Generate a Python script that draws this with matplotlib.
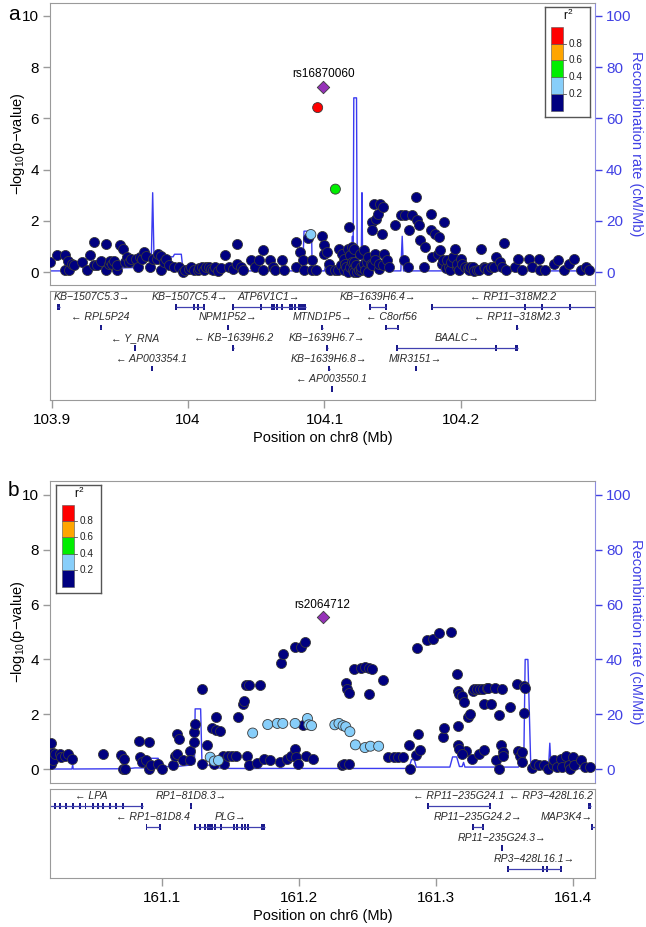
import matplotlib
matplotlib.use('Agg')
import matplotlib.pyplot as plt
import matplotlib.patches as mpatches
import numpy as np

plt.rcParams['font.family'] = ['Liberation Sans', 'DejaVu Sans']
plt.rcParams['mathtext.fontset'] = 'custom'
plt.rcParams['mathtext.rm'] = 'Liberation Sans'

# ---------------- panel a : chr8 ----------------
a_pos = [103.899, 103.904, 103.910, 103.910, 103.913, 103.912, 103.915, 103.916,
         103.922, 103.926, 103.928, 103.931, 103.931, 103.933, 103.936, 103.940,
         103.940, 103.942, 103.943, 103.944, 103.946, 103.948, 103.948, 103.950,
         103.952, 103.954, 103.955, 103.957, 103.958, 103.962, 103.963, 103.965,
         103.966, 103.968, 103.969, 103.972, 103.974, 103.977, 103.978, 103.980,
         103.980, 103.982, 103.984, 103.986, 103.990, 103.993, 103.996, 103.998,
         104.001, 104.002, 104.004, 104.007, 104.008, 104.010, 104.012, 104.013,
         104.015, 104.017, 104.018, 104.020, 104.022, 104.024, 104.027, 104.030,
         104.033, 104.036, 104.036, 104.039, 104.040, 104.046, 104.049, 104.052,
         104.055, 104.055, 104.060, 104.062, 104.064, 104.069, 104.070, 104.079,
         104.079, 104.082, 104.084, 104.085, 104.088, 104.091, 104.091, 104.094,
         104.098, 104.100, 104.100, 104.102, 104.103, 104.104, 104.108, 104.110,
         104.111, 104.112, 104.113, 104.114, 104.114, 104.115, 104.116, 104.117,
         104.117, 104.118, 104.119, 104.119, 104.120, 104.120, 104.121, 104.122,
         104.122, 104.122, 104.123, 104.124, 104.125, 104.126, 104.127, 104.127,
         104.129, 104.129, 104.130, 104.131, 104.132, 104.132, 104.134, 104.135,
         104.135, 104.135, 104.136, 104.137, 104.137, 104.138, 104.139, 104.140,
         104.140, 104.141, 104.142, 104.143, 104.143, 104.144, 104.146, 104.147,
         104.152, 104.156, 104.158, 104.159, 104.161, 104.162, 104.164, 104.167,
         104.168, 104.169, 104.170, 104.173, 104.174, 104.178, 104.178, 104.179,
         104.181, 104.183, 104.184, 104.185, 104.186, 104.187, 104.188, 104.189,
         104.190, 104.191, 104.192, 104.193, 104.194, 104.196, 104.197, 104.197,
         104.199, 104.200, 104.201, 104.203, 104.205, 104.206, 104.207, 104.209,
         104.210, 104.212, 104.213, 104.215, 104.217, 104.218, 104.220, 104.222,
         104.224, 104.226, 104.229, 104.230, 104.232, 104.233, 104.240, 104.242,
         104.245, 104.250, 104.252, 104.257, 104.258, 104.262, 104.268, 104.271,
         104.276, 104.279, 104.283, 104.288, 104.292, 104.294]
a_logp = [0.40, 0.66, 0.66, 0.10, 0.10, 0.45, 0.33, 0.27,
          0.40, 0.10, 0.66, 1.18, 0.27, 0.27, 0.43, 1.10,
          0.10, 0.33, 0.43, 0.30, 0.43, 0.10, 0.27, 1.05,
          0.92, 0.40, 0.60, 0.40, 0.52, 0.53, 0.20, 0.60,
          0.50, 0.79, 0.62, 0.20, 0.53, 0.53, 0.72, 0.10,
          0.62, 0.40, 0.53, 0.27, 0.20, 0.20, 0.00, 0.10,
          0.12, 0.20, 0.10, 0.08, 0.15, 0.20, 0.10, 0.20,
          0.20, 0.14, 0.10, 0.20, 0.05, 0.15, 0.66, 0.20,
          0.14, 1.09, 0.33, 0.20, 0.10, 0.47, 0.20, 0.47,
          0.86, 0.10, 0.47, 0.20, 0.10, 0.47, 0.10, 1.18,
          0.20, 0.79, 0.47, 0.10, 1.35, 0.10, 0.47, 0.10,
          1.40, 0.72, 1.05, 0.79, 0.33, 0.10, 0.10, 0.10,
          0.92, 0.27, 0.72, 0.53, 0.10, 0.33, 0.20, 0.92,
          0.00, 1.76, 0.66, 0.20, 0.99, 0.40, 0.10, 0.40,
          0.92, 0.00, 0.27, 0.00, 0.10, 0.72, 0.10, 0.20,
          0.86, 0.33, 0.10, 0.40, 0.60, 0.00, 0.33, 1.96,
          1.63, 0.27, 2.67, 0.72, 0.47, 2.09, 2.28, 0.14,
          0.33, 2.67, 1.50, 2.54, 0.27, 0.72, 0.47, 0.20,
          1.83, 2.22, 0.47, 2.22, 0.20, 1.63, 2.22, 2.93,
          2.02, 1.83, 1.25, 0.20, 0.99, 1.63, 2.28, 0.60,
          1.50, 0.72, 1.37, 0.86, 0.30, 0.47, 1.96, 0.15,
          0.47, 0.20, 0.10, 0.40, 0.60, 0.92, 0.20, 0.33,
          0.10, 0.53, 0.30, 0.20, 0.15, 0.10, 0.20, 0.20,
          0.05, 0.10, 0.10, 0.92, 0.20, 0.15, 0.10, 0.20,
          0.20, 0.60, 0.40, 0.20, 1.12, 0.10, 0.20, 0.53,
          0.10, 0.53, 0.20, 0.53, 0.10, 0.10, 0.33, 0.47,
          0.10, 0.33, 0.53, 0.10, 0.20, 0.10]
a_ld_pos = [104.090, 104.108, 104.095]
a_ld_logp = [1.47, 3.24, 6.42]
a_ld_r2 = [0.3, 0.5, 0.9]
a_top_pos = 104.099
a_top_logp = 7.23
a_top_name = 'rs16870060'

a_rec_pos = [103.8987, 103.915, 103.921, 103.922, 103.923, 103.930, 103.933, 103.940,
             103.960, 103.968, 103.973, 103.974, 103.975, 103.980, 103.983, 103.989,
             103.990, 103.995, 103.996, 103.999, 104.002, 104.084, 104.085, 104.0905,
             104.091, 104.093, 104.100, 104.101, 104.102, 104.119, 104.120, 104.1205,
             104.121, 104.1215, 104.1235, 104.124, 104.127, 104.1275, 104.128, 104.131,
             104.143, 104.144, 104.146, 104.156, 104.157, 104.158, 104.2984]
a_rec_rate = [0.5, 0.5, 3, 5, 1, 1.5, 1, 1.5,
              1.8, 4.5, 5, 31, 5, 5.5, 6, 6,
              7, 7, 2, 1, 0.5, 0.5, 16, 16,
              1, 0.5, 0.5, 3, 0.5, 0.5, 5, 14,
              3, 68, 68, 5, 5, 31, 3, 1,
              1, 3, 0.5, 0.5, 14, 0.5, 0.5]

a_gene_names = ['KB-1507C5.3', 'KB-1507C5.4', 'ATP6V1C1', 'KB-1639H6.4', 'RP11-318M2.2',
                'RPL5P24', 'NPM1P52', 'MTND1P5', 'C8orf56', 'RP11-318M2.3',
                'Y_RNA', 'KB-1639H6.2', 'KB-1639H6.7', 'BAALC',
                'AP003354.1', 'KB-1639H6.8', 'MIR3151', 'AP003550.1']
a_gene_strand = ['+', '+', '+', '+', '-', '-', '+', '+', '-', '-',
                 '-', '-', '+', '+', '-', '+', '+', '-']
a_gene_row = [0, 0, 0, 0, 0, 1, 1, 1, 1, 1, 2, 2, 2, 2, 3, 3, 3, 4]
a_gene_start = [103.9039, 103.9912, 104.0327, 104.1333, 104.1787, 103.9355, 104.0290, 104.0982,
                104.1451, 104.2411, 103.9608, 104.0328, 104.1015, 104.1530, 103.9732, 104.1033,
                104.1668, 104.1052]
a_gene_end = [103.9060, 104.0120, 104.0862, 104.1451, 104.3100, 103.9362, 104.0296, 104.0988,
              104.1538, 104.2417, 103.9614, 104.0336, 104.1023, 104.2422, 103.9736, 104.1037,
              104.1670, 104.1054]
a_gene_exons = [[(103.9039, 103.9060)],
                [(103.9910, 103.9914), (104.0040, 104.0043), (104.0073, 104.0077), (104.0118, 104.0120)],
                [(104.0327, 104.0330), (104.0532, 104.0536), (104.0610, 104.0614), (104.0631, 104.0635),
                 (104.0650, 104.0654), (104.0689, 104.0693), (104.0742, 104.0746), (104.0763, 104.0767),
                 (104.0781, 104.0785), (104.0809, 104.0862)],
                [(104.1333, 104.1336), (104.1448, 104.1451)],
                [(104.1787, 104.1790), (104.2467, 104.2471), (104.2590, 104.2594), (104.2800, 104.2805)],
                [(103.9355, 103.9362)],
                [(104.0290, 104.0296)],
                [(104.0982, 104.0988)],
                [(104.1451, 104.1454), (104.1535, 104.1538)],
                [(104.2411, 104.2417)],
                [(103.9608, 103.9614)],
                [(104.0328, 104.0336)],
                [(104.1015, 104.1023)],
                [(104.1530, 104.1533), (104.2257, 104.2261), (104.2395, 104.2422)],
                [(103.9732, 103.9736)],
                [(104.1033, 104.1037)],
                [(104.1668, 104.1670)],
                [(104.1052, 104.1054)]]

# ---------------- panel b : chr6 ----------------
b_pos = [161.019, 161.020, 161.019, 161.020, 161.022, 161.025, 161.026, 161.029,
         161.031, 161.034, 161.057, 161.070, 161.071, 161.072, 161.073, 161.083,
         161.084, 161.085, 161.090, 161.088, 161.090, 161.092, 161.097, 161.100,
         161.108, 161.109, 161.111, 161.111, 161.112, 161.115, 161.120, 161.120,
         161.123, 161.123, 161.124, 161.129, 161.129, 161.133, 161.136, 161.138,
         161.139, 161.139, 161.142, 161.144, 161.145, 161.148, 161.151, 161.154,
         161.155, 161.159, 161.160, 161.161, 161.162, 161.163, 161.163, 161.169,
         161.171, 161.174, 161.179, 161.186, 161.187, 161.188, 161.191, 161.194,
         161.197, 161.197, 161.198, 161.199, 161.201, 161.203, 161.204, 161.205,
         161.210, 161.231, 161.233, 161.234, 161.235, 161.236, 161.236, 161.240,
         161.245, 161.248, 161.251, 161.251, 161.253, 161.261, 161.265, 161.269,
         161.272, 161.276, 161.280, 161.281, 161.285, 161.286, 161.287, 161.288,
         161.293, 161.298, 161.302, 161.305, 161.306, 161.311, 161.315, 161.316,
         161.316, 161.316, 161.317, 161.319, 161.320, 161.322, 161.317, 161.319,
         161.323, 161.325, 161.326, 161.327, 161.328, 161.330, 161.331, 161.332,
         161.334, 161.335, 161.335, 161.337, 161.338, 161.340, 161.343, 161.344,
         161.346, 161.346, 161.347, 161.348, 161.349, 161.349, 161.354, 161.359,
         161.360, 161.361, 161.363, 161.364, 161.364, 161.365, 161.363, 161.370,
         161.372, 161.375, 161.379, 161.382, 161.385, 161.386, 161.388, 161.391,
         161.392, 161.395, 161.397, 161.398, 161.400, 161.401, 161.406, 161.409,
         161.412]
b_logp = [0.96, 0.60, 0.20, 0.32, 0.56, 0.56, 0.44, 0.50,
          0.56, 0.38, 0.55, 0.53, 0.02, 0.38, 0.02, 1.03,
          0.44, 0.26, 0.99, 0.32, 0.02, 0.17, 0.20, 0.02,
          0.14, 0.50, 0.56, 1.29, 1.10, 0.32, 0.68, 0.32,
          0.99, 1.35, 1.65, 2.91, 0.20, 0.87, 1.49, 0.20,
          1.89, 1.44, 1.41, 0.50, 0.20, 0.50, 0.50, 0.50,
          1.92, 2.37, 2.49, 3.08, 0.50, 0.17, 3.08, 0.24,
          3.08, 0.38, 0.32, 0.26, 3.87, 4.19, 0.38, 0.50,
          0.75, 4.47, 0.44, 0.20, 4.47, 1.61, 4.62, 0.47,
          0.38, 0.14, 0.20, 3.13, 2.91, 2.76, 0.20, 3.65,
          3.69, 3.71, 3.69, 2.73, 3.65, 3.25, 0.44, 0.44,
          0.44, 0.44, 0.90, 0.00, 0.53, 4.41, 1.29, 0.71,
          4.70, 4.76, 4.98, 1.17, 1.49, 5.01, 3.47, 1.59,
          0.89, 2.85, 2.73, 2.67, 2.45, 0.65, 0.75, 0.56,
          1.89, 2.00, 0.38, 2.85, 2.91, 2.91, 0.56, 2.91,
          2.93, 0.71, 2.39, 2.97, 2.97, 2.39, 2.97, 0.32,
          0.02, 1.97, 0.87, 2.93, 0.62, 0.50, 2.28, 3.09,
          0.68, 0.50, 0.62, 2.04, 3.05, 2.97, 0.26, 0.05,
          0.20, 0.14, 0.14, 0.02, 0.14, 0.32, 0.08, 0.38,
          0.08, 0.50, 0.14, 0.02, 0.44, 0.14, 0.32, 0.08,
          0.08]
b_ld_pos = [161.135, 161.138, 161.141, 161.166, 161.177, 161.184, 161.188, 161.197,
            161.206, 161.207, 161.209, 161.226, 161.229, 161.232, 161.234, 161.237,
            161.241, 161.248, 161.252, 161.258]
b_ld_logp = [0.44, 0.30, 0.32, 1.32, 1.63, 1.67, 1.67, 1.67,
             1.85, 1.62, 1.59, 1.62, 1.67, 1.59, 1.55, 1.37,
             0.89, 0.79, 0.84, 0.84]
b_ld_r2 = [0.25] * 20
b_top_pos = 161.217
b_top_logp = 5.53
b_top_name = 'rs2064712'

b_rec_pos = [161.015, 161.034, 161.0345, 161.035, 161.075, 161.080, 161.090, 161.091,
             161.097, 161.099, 161.110, 161.120, 161.1235, 161.124, 161.128, 161.129,
             161.131, 161.138, 161.140, 161.150, 161.200, 161.201, 161.202, 161.280,
             161.282, 161.284, 161.2855, 161.310, 161.312, 161.315, 161.317, 161.319,
             161.320, 161.321, 161.360, 161.364, 161.365, 161.367, 161.369, 161.370,
             161.382, 161.383, 161.384, 161.416]
b_rec_rate = [0.1, 0.1, 1.5, 0.1, 0.2, 0.5, 0.5, 4,
              4, 1, 1, 1.5, 2, 22, 22, 2,
              1.5, 1.5, 0.5, 0.3, 0.3, 0.9, 0.3, 0.3,
              3.5, 3.5, 0.8, 0.8, 4.5, 4.5, 1, 1,
              2.5, 0.8, 0.8, 3, 40, 40, 3, 0.2,
              0.2, 9.5, 0.2, 0.2]

b_gene_names = ['LPA', 'RP1-81D8.3', 'RP11-235G24.1', 'RP3-428L16.2',
                'RP1-81D8.4', 'PLG', 'RP11-235G24.2', 'MAP3K4',
                'RP11-235G24.3', 'RP3-428L16.1']
b_gene_strand = ['-', '+', '-', '-', '-', '+', '+', '+', '+', '+']
b_gene_row = [0, 0, 0, 0, 1, 1, 1, 1, 2, 3]
b_gene_start = [161.0100, 161.1206, 161.2937, 161.4110, 161.0883, 161.1240, 161.3266, 161.4133,
                161.3478, 161.3520]
b_gene_end = [161.0856, 161.1212, 161.3394, 161.4130, 161.0982, 161.1749, 161.3345, 161.5000,
              161.3482, 161.3911]
b_gene_exons = [[(161.0176, 161.0180), (161.0215, 161.0219), (161.0254, 161.0258), (161.0293, 161.0297),
                 (161.0345, 161.0349), (161.0397, 161.0401), (161.0437, 161.0441), (161.0489, 161.0493),
                 (161.0528, 161.0532), (161.0567, 161.0571), (161.0619, 161.0623), (161.0659, 161.0663),
                 (161.0711, 161.0715), (161.0854, 161.0856)],
                [(161.1206, 161.1212)],
                [(161.2937, 161.2940), (161.3391, 161.3394)],
                [(161.4110, 161.4130)],
                [(161.0883, 161.0886), (161.0979, 161.0982)],
                [(161.1240, 161.1243), (161.1272, 161.1276), (161.1311, 161.1315), (161.1330, 161.1334),
                 (161.1345, 161.1349), (161.1364, 161.1368), (161.1382, 161.1386), (161.1429, 161.1433),
                 (161.1520, 161.1524), (161.1546, 161.1550), (161.1580, 161.1584), (161.1599, 161.1603),
                 (161.1625, 161.1629), (161.1723, 161.1749)],
                [(161.3266, 161.3270), (161.3337, 161.3345)],
                [(161.4133, 161.4137)],
                [(161.3478, 161.3482)],
                [(161.3520, 161.3523), (161.3779, 161.3783), (161.3805, 161.3809), (161.3908, 161.3911)]]

r2_colors = ['#000080', '#87CEFA', '#00EE00', '#FFA500', '#FF0000']
BLUE = '#4141E4'
GRAY = '#9a9a9a'
GENE_LINE = '#4040b0'
GENE_BOX = '#1a1a8a'

W, H = 646, 927


def px_axes(fig, x0, y0, x1, y1):
    # pixel box (top-left origin) -> figure axes
    return fig.add_axes([x0 / W, (H - y1) / H, (x1 - x0) / W, (y1 - y0) / H])


def r2_color(r2):
    return r2_colors[min(int(r2 / 0.2), 4)]


def draw_assoc(fig, box, xlim, pos, logp, ld_pos, ld_logp, ld_r2,
               top_pos, top_logp, top_name, rec_pos, rec_rate):
    ax = px_axes(fig, *box)
    width = box[2] - box[0]
    rax = ax.twinx()
    ax.set_zorder(rax.get_zorder() + 1)
    ax.patch.set_visible(False)

    rax.plot(rec_pos, rec_rate, color='#3b3bf0', lw=1.0)
    rax.set_ylim(-5, 105)
    rax.set_yticks([0, 20, 40, 60, 80, 100])
    rax.tick_params(axis='y', colors=BLUE, labelsize=11, length=5, width=1, pad=3)
    rax.set_ylabel('Recombination rate (cM/Mb)', color=BLUE, fontsize=10.5,
                   rotation=270, va='center')
    rax.yaxis.set_label_coords(1 + 41 / width, 0.5)
    for s in ['top', 'left', 'bottom']:
        rax.spines[s].set_visible(False)
    rax.spines['right'].set_color('#8c8ce0')

    ax.scatter(pos, logp, s=52, c=r2_colors[0], edgecolors='#3a3a3a',
               linewidths=0.6, zorder=3)
    ax.scatter(ld_pos, ld_logp, s=52, c=[r2_color(v) for v in ld_r2],
               edgecolors='#3a3a3a', linewidths=0.6, zorder=4)
    ax.scatter([top_pos], [top_logp], s=40, marker='D', c='#9632B8',
               edgecolors='#3a3a3a', linewidths=0.6, zorder=5)
    ax.annotate(top_name, (top_pos, top_logp), xytext=(0, 5),
                textcoords='offset points', ha='center', va='bottom', fontsize=8.5)

    ax.set_xlim(*xlim)
    ax.set_ylim(-0.5, 10.5)
    ax.set_yticks([0, 2, 4, 6, 8, 10])
    ax.set_xticks([])
    ax.tick_params(axis='y', colors=GRAY, labelcolor='black', labelsize=11,
                   length=5, width=1, pad=3)
    ax.set_ylabel('\u2212log$_{10}$(p\u2212value)', fontsize=10.5, va='center')
    ax.yaxis.set_label_coords(-32 / width, 0.5)
    for s in ax.spines.values():
        s.set_color(GRAY)
    ax.spines['right'].set_visible(False)
    rax.set_xlim(*xlim)
    return ax


def draw_legend(fig, box):
    lg = px_axes(fig, *box)
    lg.set_xlim(0, 1)
    lg.set_ylim(0, 1)
    lg.set_xticks([])
    lg.set_yticks([])
    for s in lg.spines.values():
        s.set_color('#555555')
        s.set_linewidth(1.0)
    seg = 0.152
    y0 = 0.058
    for i, col in enumerate(r2_colors):
        lg.add_patch(mpatches.Rectangle((0.14, y0 + i * seg), 0.25, seg,
                                        facecolor=col, edgecolor='#555555', lw=0.4))
    for i, v in enumerate(['0.2', '0.4', '0.6', '0.8']):
        yy = y0 + (i + 1) * seg
        lg.plot([0.39, 0.47], [yy, yy], color='#555555', lw=0.6)
        lg.text(0.52, yy, v, fontsize=7.2, va='center', ha='left', color='#222222')
    lg.text(0.52, 0.92, 'r$^{2}$', fontsize=8.5, ha='center', va='center')


def draw_genes(fig, box, xlim, ticks, xlabel, names, strand, rows, starts, ends, exons,
               first_row=15, row_step=20.5):
    ax = px_axes(fig, *box)
    hpx = box[3] - box[1]
    ax.set_xlim(*xlim)
    ax.set_ylim(hpx, 0)
    ax.set_yticks([])
    ax.set_xticks(ticks)
    ax.set_xticklabels([('%g' % t) for t in ticks])
    ax.tick_params(axis='x', colors=GRAY, labelcolor='black', labelsize=11,
                   length=6, width=1, pad=3)
    ax.set_xlabel(xlabel, fontsize=10.5, labelpad=3)
    for s in ax.spines.values():
        s.set_color(GRAY)

    renderer = fig.canvas.get_renderer()
    axbb = ax.get_window_extent(renderer)
    minw = (xlim[1] - xlim[0]) * 0.0035
    for name, st, row, g0, g1, ex in zip(names, strand, rows, starts, ends, exons):
        y = first_row + row_step * row
        ax.plot([g0, g1], [y, y], color=GENE_LINE, lw=0.9, solid_capstyle='butt')
        for e0, e1 in ex:
            w = max(e1 - e0, minw)
            c = (e0 + e1) / 2
            ax.add_patch(mpatches.Rectangle((c - w / 2, y - 2.6), w, 5.2,
                                            facecolor=GENE_BOX, edgecolor='none'))
        disp = name.replace('-', '\u2212')
        label = ('\u2190 ' + disp) if st == '-' else (disp + '\u2192')
        mid = (g0 + min(g1, xlim[1])) / 2
        t = ax.text(mid, y - 5, label, ha='center', va='bottom', fontsize=7.6,
                    style='italic', color='#2a2a2a')
        bb = t.get_window_extent(renderer)
        shift = 0
        if bb.x0 < axbb.x0 + 4:
            shift = axbb.x0 + 4 - bb.x0
        elif bb.x1 > axbb.x1 - 2:
            shift = axbb.x1 - 2 - bb.x1
        if shift:
            cx, cy = ax.transData.transform((mid, y - 5))
            nx, ny = ax.transData.inverted().transform((cx + shift, cy))
            t.set_x(nx)
    return ax


fig = plt.figure(figsize=(W / 100, H / 100), dpi=100)

xlim_a = (103.8987, 104.2984)
xlim_b = (161.018, 161.416)

draw_assoc(fig, (50, 3, 595, 285), xlim_a, a_pos, a_logp, a_ld_pos, a_ld_logp, a_ld_r2,
           a_top_pos, a_top_logp, a_top_name, a_rec_pos, a_rec_rate)
draw_legend(fig, (545, 7, 590, 117))
draw_genes(fig, (50, 291, 595, 400), xlim_a, [103.9, 104.0, 104.1, 104.2],
           'Position on chr8 (Mb)', a_gene_names, a_gene_strand, a_gene_row,
           a_gene_start, a_gene_end, a_gene_exons, 16, 20.5)

draw_assoc(fig, (50, 481, 595, 783), xlim_b, b_pos, b_logp, b_ld_pos, b_ld_logp, b_ld_r2,
           b_top_pos, b_top_logp, b_top_name, b_rec_pos, b_rec_rate)
draw_legend(fig, (56, 485, 101, 593))
draw_genes(fig, (50, 789, 595, 878), xlim_b, [161.1, 161.2, 161.3, 161.4],
           'Position on chr6 (Mb)', b_gene_names, b_gene_strand, b_gene_row,
           b_gene_start, b_gene_end, b_gene_exons, 17, 21)

fig.text(8 / W, 1 - 15 / H, 'a', fontsize=15, va='center', ha='left')
fig.text(8 / W, 1 - 490 / H, 'b', fontsize=15, va='center', ha='left')

fig.savefig('out.png', dpi=100)
